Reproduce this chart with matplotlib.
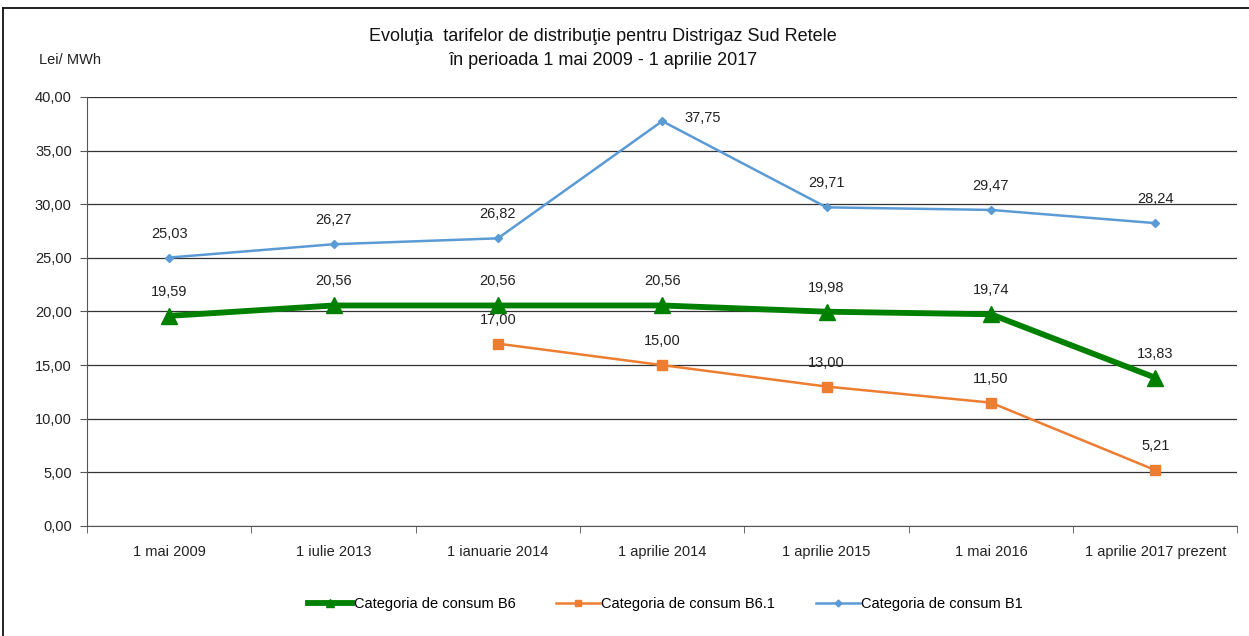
import matplotlib
matplotlib.use("Agg")
import matplotlib.pyplot as plt
from matplotlib.lines import Line2D
import numpy as np

plt.rcParams['font.family'] = ['Liberation Sans', 'DejaVu Sans']

categories = ["1 mai 2009", "1 iulie 2013", "1 ianuarie 2014", "1 aprilie 2014",
              "1 aprilie 2015", "1 mai 2016", "1 aprilie 2017 prezent"]
b6 = [19.59, 20.56, 20.56, 20.56, 19.98, 19.74, 13.83]
b61 = [None, None, 17.00, 15.00, 13.00, 11.50, 5.21]
b1 = [25.03, 26.27, 26.82, 37.75, 29.71, 29.47, 28.24]

def fmt(v):
    return f"{v:.2f}".replace(".", ",")

fs = 10.5

fig = plt.figure(figsize=(12.49, 6.36), dpi=100)
ax = fig.add_axes([0.0697, 0.173, 0.921, 0.6745])

x = np.arange(len(categories))
b61_x = [i for i, v in enumerate(b61) if v is not None]
b61_y = [v for v in b61 if v is not None]

ax.plot(x, b6, color="#008000", lw=4.2, marker="^", markersize=11, zorder=4,
        label="Categoria de consum B6")
ax.plot(b61_x, b61_y, color="#ED7D31", lw=1.8, marker="s", markersize=7, zorder=3,
        label="Categoria de consum B6.1")
ax.plot(x, b1, color="#5B9BD5", lw=1.8, marker="D", markersize=4.5, zorder=3,
        label="Categoria de consum B1")

# data labels above the points (37,75 sits to the right)
for xs, ys in [(x, b6), (b61_x, b61_y), (x, b1)]:
    for xi, yi in zip(xs, ys):
        if yi == 37.75:
            ax.annotate(fmt(yi), (xi, yi), xytext=(40, 3), textcoords="offset pixels",
                        ha="center", va="center", fontsize=fs, color="#222222")
        else:
            ax.annotate(fmt(yi), (xi, yi), xytext=(0, 24), textcoords="offset pixels",
                        ha="center", va="center", fontsize=fs, color="#222222")

ax.set_xlim(-0.5, len(categories) - 0.5)
ax.set_ylim(0, 40)
ax.set_yticks(np.arange(0, 41, 5))
ax.set_yticklabels([fmt(v) for v in np.arange(0, 41, 5)], fontsize=fs, color="#222222")
ax.set_xticks(x)
ax.set_xticklabels(categories, fontsize=fs, color="#222222")
ax.set_xticks(np.arange(-0.5, len(categories)), minor=True)
ax.tick_params(axis="x", which="major", length=0, pad=14)
ax.tick_params(axis="x", which="minor", length=5, color="#555555", direction="out")
ax.tick_params(axis="y", length=5, color="#555555", pad=6)

ax.yaxis.grid(True, color="#333333", lw=0.9)
ax.set_axisbelow(True)
for s in ["top", "right"]:
    ax.spines[s].set_visible(False)
ax.spines["left"].set_color("#555555")
ax.spines["bottom"].set_color("#555555")

fig.text(0.483, 0.942, "Evoluţia  tarifelor de distribuţie pentru Distrigaz Sud Retele",
         ha="center", va="center", fontsize=13, color="#111111")
fig.text(0.483, 0.905, "în perioada 1 mai 2009 - 1 aprilie 2017",
         ha="center", va="center", fontsize=13, color="#111111")
fig.text(0.031, 0.905, "Lei/ MWh", ha="left", va="center", fontsize=fs, color="#222222")

handles = [Line2D([], [], color="#008000", lw=4.2, marker="^", markersize=6),
           Line2D([], [], color="#ED7D31", lw=1.8, marker="s", markersize=5),
           Line2D([], [], color="#5B9BD5", lw=1.8, marker="D", markersize=3.5)]
fig.legend(handles, ["Categoria de consum B6", "Categoria de consum B6.1", "Categoria de consum B1"],
           loc="center", bbox_to_anchor=(0.533, 0.05), ncol=3, frameon=False, fontsize=fs,
           handlelength=3, handletextpad=0.1, columnspacing=2.8)

# figure border (top and left edges visible)
fig.add_artist(Line2D([0.0024, 1.0], [0.987, 0.987], color="#111111", lw=1.3, transform=fig.transFigure))
fig.add_artist(Line2D([0.0024, 0.0024], [0.0, 0.987], color="#111111", lw=1.3, transform=fig.transFigure))

fig.savefig("out.png", dpi=100)
